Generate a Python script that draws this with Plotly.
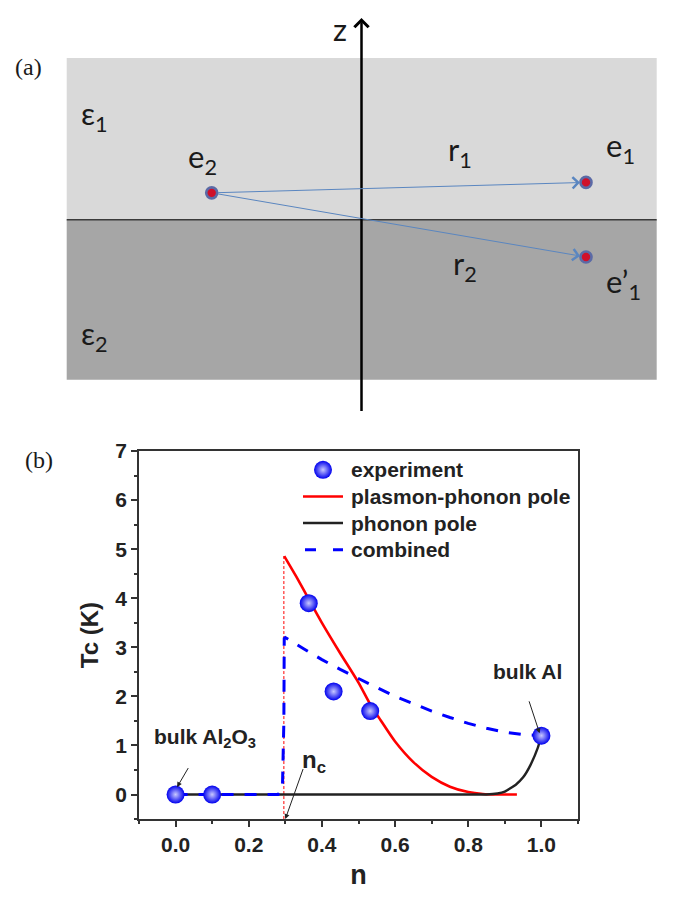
import plotly.graph_objects as go

# ---------------- panel (b) data ----------------
n_exp = [0.0, 0.1, 0.364, 0.432, 0.532, 1.0]
tc_exp = [0.0, 0.0, 3.9, 2.1, 1.7, 1.2]

n_pp = [0.297, 0.33, 0.364, 0.40, 0.45, 0.50, 0.532, 0.56, 0.60, 0.65, 0.70, 0.75, 0.80, 0.84, 0.88, 0.933]
tc_pp = [4.86, 4.44, 3.98, 3.50, 2.88, 2.28, 1.84, 1.52, 1.08, 0.66, 0.36, 0.16, 0.05, 0.01, 0.0, 0.0]

n_ph = [0.0, 0.2, 0.4, 0.6, 0.8, 0.85, 0.88, 0.90, 0.93, 0.95, 0.97, 0.99, 1.0]
tc_ph = [0.0, 0.0, 0.0, 0.0, 0.0, 0.0, 0.02, 0.06, 0.2, 0.35, 0.6, 0.95, 1.2]

n_comb = [0.0, 0.28, 0.292, 0.296, 0.297, 0.30, 0.35, 0.40, 0.45, 0.50, 0.55, 0.60, 0.65, 0.70,
          0.75, 0.80, 0.85, 0.90, 0.95, 1.0]
tc_comb = [0.0, 0.0, 0.1, 1.5, 3.18, 3.2, 2.97, 2.75, 2.55, 2.36, 2.18, 2.0, 1.85, 1.7,
           1.57, 1.45, 1.35, 1.27, 1.22, 1.2]

n_c = 0.296
n_c_line_tc = [-0.5, 4.86]

x_ticks = [0.0, 0.2, 0.4, 0.6, 0.8, 1.0]
x_ticklabels = ["0.0", "0.2", "0.4", "0.6", "0.8", "1.0"]
y_ticks = [0, 1, 2, 3, 4, 5, 6, 7]

legend_names = ["experiment", "plasmon-phonon pole", "phonon pole", "combined"]

# ---------------- panel (a) schematic (diagram units = px) ----------------
charge_names = ["e2", "e1", "e'1"]
charge_x = [211.7, 586.0, 586.0]
charge_y = [183.3, 172.7, 248.3]

W, H = 674, 897
px0, px1 = 139, 578
py0, py1 = 445, 818

RED, BLACK, BLUE = "#ff0000", "#222222", "#0000ff"
marker_style = dict(size=18, color="#0000ee", gradient=dict(type="radial", color="#c8c8ff"),
                    line=dict(width=0))
red_line = dict(color=RED, width=2.6)
black_line = dict(color=BLACK, width=2.4)
blue_dash = dict(color=BLUE, width=3, dash="12px,11px")

fig = go.Figure()

# panel (b) traces
fig.add_trace(go.Scatter(x=[n_c, n_c], y=n_c_line_tc, mode="lines",
                         line=dict(color=RED, width=1, dash="3px,2px"), hoverinfo="skip"))
fig.add_trace(go.Scatter(x=n_pp, y=tc_pp, mode="lines", name=legend_names[1],
                         line=dict(**red_line, shape="spline", smoothing=0.6)))
fig.add_trace(go.Scatter(x=n_ph, y=tc_ph, mode="lines", name=legend_names[2],
                         line=dict(**black_line, shape="spline", smoothing=0.4)))
fig.add_trace(go.Scatter(x=n_comb, y=tc_comb, mode="lines", name=legend_names[3], line=blue_dash))
fig.add_trace(go.Scatter(x=n_exp, y=tc_exp, mode="markers", name=legend_names[0], marker=marker_style))

# ---- legend keys (drawn on the full-figure pixel overlay axes x2/y2) ----
leg_rows = [464, 491, 518, 545]
leg_x0, leg_x1, leg_text_x = 303, 343, 349
fig.add_trace(go.Scatter(x=[(leg_x0 + leg_x1) / 2], y=[leg_rows[0]], xaxis="x2", yaxis="y2",
                         mode="markers", marker=marker_style, hoverinfo="skip"))
fig.add_trace(go.Scatter(x=[leg_x0, leg_x1], y=[leg_rows[1]] * 2, xaxis="x2", yaxis="y2",
                         mode="lines", line=red_line, hoverinfo="skip"))
fig.add_trace(go.Scatter(x=[leg_x0, leg_x1], y=[leg_rows[2]] * 2, xaxis="x2", yaxis="y2",
                         mode="lines", line=black_line, hoverinfo="skip"))
fig.add_trace(go.Scatter(x=[leg_x0 + 2, leg_x1], y=[leg_rows[3]] * 2, xaxis="x2", yaxis="y2",
                         mode="lines", line=dict(color=BLUE, width=3, dash="11px,17px"), hoverinfo="skip"))

# panel (a) charges
fig.add_trace(go.Scatter(x=charge_x, y=charge_y, xaxis="x2", yaxis="y2", mode="markers",
                         marker=dict(size=11, color="#d0102a", line=dict(color="#5b6aa6", width=2.6)),
                         hoverinfo="skip"))

axis_common = dict(showline=True, linecolor="#333333", linewidth=1.5, mirror=True,
                   ticks="outside", ticklen=6, tickwidth=1.5, tickcolor="#333333",
                   showgrid=False, zeroline=False,
                   tickfont=dict(family="Liberation Sans", size=21, color="#222222", weight="bold"))

fig.update_layout(
    width=W, height=H, margin=dict(l=0, r=0, t=0, b=0),
    paper_bgcolor="white", plot_bgcolor="rgba(0,0,0,0)", showlegend=False,
    xaxis=dict(domain=[px0 / W, px1 / W], range=[-0.1, 1.1],
               tickvals=x_ticks, ticktext=x_ticklabels,
               minor=dict(tickvals=[-0.1, 0.1, 0.3, 0.5, 0.7, 0.9, 1.1], ticklen=3.5,
                          ticks="outside", tickcolor="#333333", tickwidth=1.5),
               title=dict(text="n", font=dict(family="Liberation Sans", size=27, color="#222222", weight="bold"),
                          standoff=10),
               **axis_common),
    yaxis=dict(domain=[1 - py1 / H, 1 - py0 / H], range=[-0.5, 7],
               tickvals=y_ticks,
               minor=dict(tickvals=[-0.5, 0.5, 1.5, 2.5, 3.5, 4.5, 5.5, 6.5], ticklen=3.5,
                          ticks="outside", tickcolor="#333333", tickwidth=1.5),
               title=dict(text="Tc (K)", font=dict(family="Liberation Sans", size=24, color="#222222", weight="bold"),
                          standoff=10),
               **axis_common),
    xaxis2=dict(domain=[0, 1], range=[0, W], visible=False, anchor="y2", fixedrange=True),
    yaxis2=dict(domain=[0, 1], range=[H, 0], visible=False, anchor="x2", fixedrange=True),
)

shapes = []
shapes.append(dict(type="rect", xref="x2", yref="y2", x0=66.7, x1=656.7, y0=46.7, y1=210.5,
                   fillcolor="#d9d9d9", line=dict(width=0), layer="below"))
shapes.append(dict(type="rect", xref="x2", yref="y2", x0=66.7, x1=656.7, y0=210.5, y1=372.7,
                   fillcolor="#a6a6a6", line=dict(width=0), layer="below"))
shapes.append(dict(type="line", xref="x2", yref="y2", x0=66.7, x1=656.7, y0=210.5, y1=210.5,
                   line=dict(color="#3a3a3a", width=1.5), layer="below"))
fig.update_layout(shapes=shapes)

ann = []
ann.append(dict(xref="x2", yref="y2", axref="x2", ayref="y2", x=361.5, y=6, ax=361.5, ay=406,
                showarrow=True, arrowhead=4, arrowsize=1.1, arrowwidth=2.5, arrowcolor="#000000", text=""))
for i in (1, 2):
    ann.append(dict(xref="x2", yref="y2", axref="x2", ayref="y2",
                    x=charge_x[i], y=charge_y[i], ax=charge_x[0], ay=charge_y[0],
                    showarrow=True, arrowhead=4, arrowsize=2.2, arrowwidth=1,
                    arrowcolor="#5a86c0", standoff=6, startstandoff=5, text=""))

lab_font = dict(family="Lato", size=31, color="#1a1a1a")
labels_a = [
    ("\u03b5<sub>1</sub>", 79, 105),
    ("e<sub>2</sub>", 186, 148),
    ("r<sub>1</sub>", 446, 141),
    ("e<sub>1</sub>", 604, 137),
    ("r<sub>2</sub>", 451, 257),
    ("e\u2019<sub>1</sub>", 604, 275),
    ("\u03b5<sub>2</sub>", 79, 328),
]
for t, x, y in labels_a:
    ann.append(dict(xref="x2", yref="y2", x=x, y=y, text=t, showarrow=False,
                    xanchor="left", yanchor="middle", font=lab_font))
ann.append(dict(xref="x2", yref="y2", x=340, y=17, text="z", showarrow=False,
                xanchor="center", yanchor="middle", font=dict(family="Lato", size=31, color="#1a1a1a")))
ann.append(dict(xref="x2", yref="y2", x=28, y=56, text="(a)", showarrow=False,
                xanchor="center", yanchor="middle",
                font=dict(family="Liberation Serif", size=24, color="#1a1a1a")))
ann.append(dict(xref="x2", yref="y2", x=39, y=454, text="(b)", showarrow=False,
                xanchor="center", yanchor="middle",
                font=dict(family="Liberation Serif", size=24, color="#1a1a1a")))

# legend texts
leg_font = dict(family="Liberation Sans", size=21, color="#222222", weight="bold")
for name, yy in zip(legend_names, leg_rows):
    ann.append(dict(xref="x2", yref="y2", x=leg_text_x, y=yy, text=name, showarrow=False,
                    xanchor="left", yanchor="middle", font=leg_font))

# panel (b) annotations
bfont = dict(family="Liberation Sans", size=21, color="#222222", weight="bold")
ann.append(dict(x=0.004, y=0.15, ax=0.037, ay=0.57, axref="x", ayref="y", text="",
                showarrow=True, arrowhead=2, arrowsize=1, arrowwidth=1, arrowcolor="#222222"))
ann.append(dict(x=0.08, y=1.15, text="bulk Al<sub>2</sub>O<sub>3</sub>", showarrow=False,
                xanchor="center", yanchor="middle", font=bfont))
ann.append(dict(x=0.995, y=1.25, ax=0.965, ay=1.93, axref="x", ayref="y", text="",
                showarrow=True, arrowhead=2, arrowsize=1, arrowwidth=1, arrowcolor="#222222"))
ann.append(dict(x=0.962, y=2.5, text="bulk Al", showarrow=False,
                xanchor="center", yanchor="middle", font=bfont))
ann.append(dict(x=0.30, y=-0.5, ax=0.35, ay=0.55, axref="x", ayref="y", text="",
                showarrow=True, arrowhead=2, arrowsize=1, arrowwidth=1, arrowcolor="#222222"))
ann.append(dict(x=0.34, y=0.68, text="n<sub>c</sub>", showarrow=False,
                xanchor="left", yanchor="middle",
                font=dict(family="Liberation Sans", size=24, color="#222222", weight="bold")))
fig.update_layout(annotations=ann)

fig.write_html("out.html")
